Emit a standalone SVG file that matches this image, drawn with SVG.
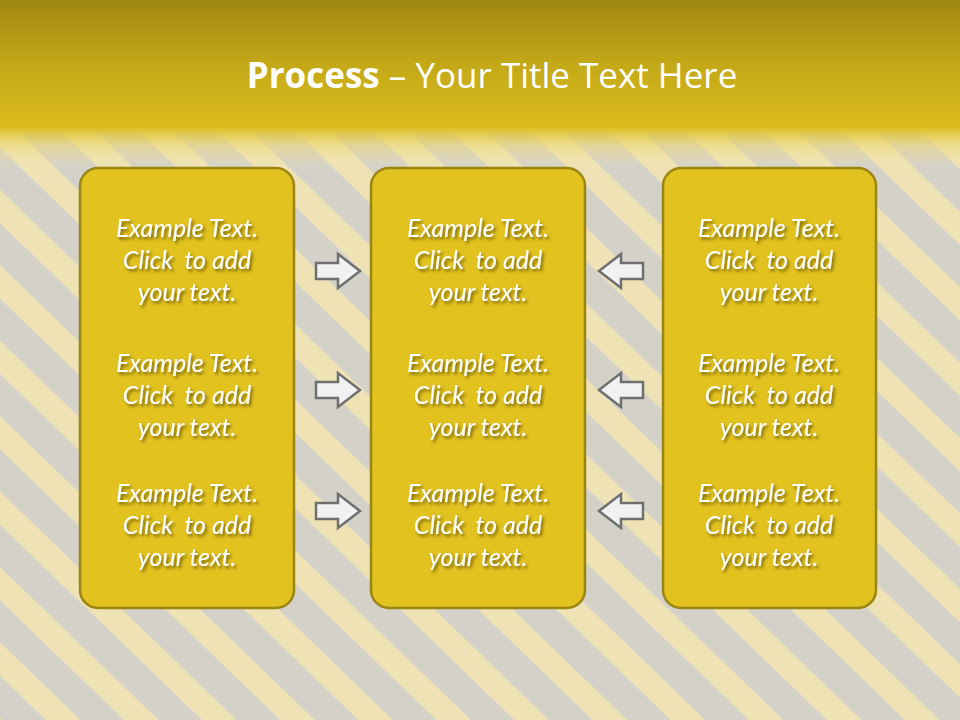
<svg xmlns="http://www.w3.org/2000/svg" width="960" height="720" viewBox="0 0 960 720">
<defs>
<pattern id="stripes" patternUnits="userSpaceOnUse" width="54.26" height="54.26" patternTransform="rotate(44)">
<rect width="54.26" height="54.26" fill="#d4d1c8"/>
<rect y="28" width="54.26" height="24" fill="#efe3b6"/>
</pattern>
<linearGradient id="hdr" x1="0" y1="0" x2="0" y2="1">
<stop offset="0" stop-color="#a08812"/>
<stop offset="0.5" stop-color="#c3a818"/>
<stop offset="1" stop-color="#dcbd1d"/>
</linearGradient>
<linearGradient id="fade" x1="0" y1="0" x2="0" y2="1">
<stop offset="0" stop-color="#dcbd1d" stop-opacity="1"/>
<stop offset="0.45" stop-color="#ecd770" stop-opacity="0.55"/>
<stop offset="1" stop-color="#f3e6b0" stop-opacity="0"/>
</linearGradient>
<filter id="sh" x="-10%" y="-20%" width="130%" height="150%">
<feDropShadow dx="2" dy="2.5" stdDeviation="1.5" flood-color="#5e5000" flood-opacity="0.8"/>
</filter>
<path id="ra" d="M-22,-8 H0 V-17 L22,0 L0,17 V8 H-22 Z"/>
</defs>
<style>
.box{fill:#e2c21f;stroke:#9c8613;stroke-width:2.5}
.arr{fill:#f1f1f4;stroke:#6f6f6f;stroke-width:2.5;stroke-linejoin:miter}
.t{font-family:Lato,"Open Sans","Liberation Sans",sans-serif;font-style:italic;font-size:25px;fill:#ffffff;text-anchor:middle;white-space:pre}
.title{font-family:"Open Sans",Lato,"Liberation Sans",sans-serif;font-size:35px;fill:#ffffff;text-anchor:middle}
</style>
<rect width="960" height="720" fill="url(#stripes)"/>
<rect x="0" y="0" width="960" height="128" fill="url(#hdr)"/>
<rect x="0" y="127" width="960" height="42" fill="url(#fade)"/>
<text class="title" x="492" y="88"><tspan font-weight="bold">Process</tspan> – Your Title Text Here</text>

<g id="box-left">
<rect class="box" x="80" y="168" width="214" height="440" rx="18"/>
<g filter="url(#sh)">
<text class="t" x="187" y="237">Example Text.</text>
<text class="t" x="187" y="269" xml:space="preserve">Click  to add</text>
<text class="t" x="187" y="301">your text.</text>
<text class="t" x="187" y="372">Example Text.</text>
<text class="t" x="187" y="404" xml:space="preserve">Click  to add</text>
<text class="t" x="187" y="436">your text.</text>
<text class="t" x="187" y="502">Example Text.</text>
<text class="t" x="187" y="534" xml:space="preserve">Click  to add</text>
<text class="t" x="187" y="566">your text.</text>
</g>
</g>
<g id="box-middle">
<rect class="box" x="371" y="168" width="214" height="440" rx="18"/>
<g filter="url(#sh)">
<text class="t" x="478" y="237">Example Text.</text>
<text class="t" x="478" y="269" xml:space="preserve">Click  to add</text>
<text class="t" x="478" y="301">your text.</text>
<text class="t" x="478" y="372">Example Text.</text>
<text class="t" x="478" y="404" xml:space="preserve">Click  to add</text>
<text class="t" x="478" y="436">your text.</text>
<text class="t" x="478" y="502">Example Text.</text>
<text class="t" x="478" y="534" xml:space="preserve">Click  to add</text>
<text class="t" x="478" y="566">your text.</text>
</g>
</g>
<g id="box-right">
<rect class="box" x="663" y="168" width="213" height="440" rx="18"/>
<g filter="url(#sh)">
<text class="t" x="769" y="237">Example Text.</text>
<text class="t" x="769" y="269" xml:space="preserve">Click  to add</text>
<text class="t" x="769" y="301">your text.</text>
<text class="t" x="769" y="372">Example Text.</text>
<text class="t" x="769" y="404" xml:space="preserve">Click  to add</text>
<text class="t" x="769" y="436">your text.</text>
<text class="t" x="769" y="502">Example Text.</text>
<text class="t" x="769" y="534" xml:space="preserve">Click  to add</text>
<text class="t" x="769" y="566">your text.</text>
</g>
</g>
<g id="connectors">
<use href="#ra" class="arr" transform="translate(338 271)"/>
<use href="#ra" class="arr" transform="translate(338 390)"/>
<use href="#ra" class="arr" transform="translate(338 511)"/>
<use href="#ra" class="arr" transform="translate(621 271) scale(-1 1)"/>
<use href="#ra" class="arr" transform="translate(621 390) scale(-1 1)"/>
<use href="#ra" class="arr" transform="translate(621 511) scale(-1 1)"/>
</g>
</svg>
